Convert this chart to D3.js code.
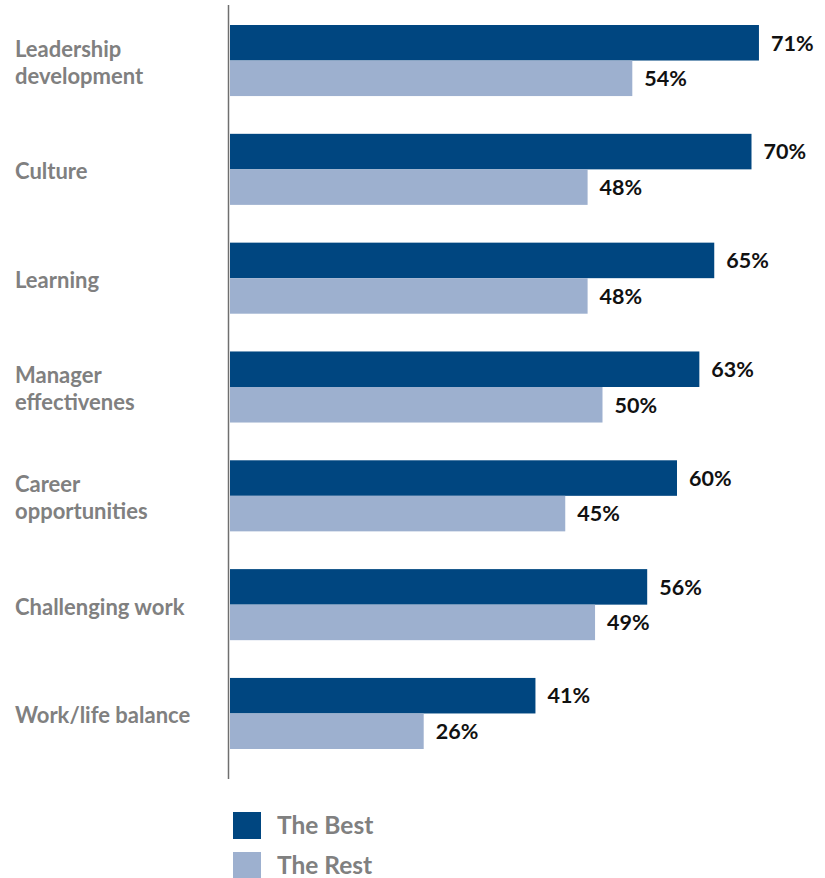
<!DOCTYPE html>
<html>
<head>
<meta charset="utf-8">
<script src="https://cdn.jsdelivr.net/npm/d3@7"></script>
<style>
  html, body { margin: 0; padding: 0; background: #fff; }
  svg { display: block; }
</style>
</head>
<body>
<div id="chart"></div>
<script>
// Categories (each label may wrap onto two lines)
const categories = [
  ["Leadership", "development"],
  ["Culture"],
  ["Learning"],
  ["Manager", "effectivenes"],
  ["Career", "opportunities"],
  ["Challenging work"],
  ["Work/life balance"]
];
const categoryKeys = categories.map(c => c.join(" "));

// Percent of respondents
const bestValues = [71, 70, 65, 63, 60, 56, 41];
const restValues = [54, 48, 48, 50, 45, 49, 26];

const seriesNames = ["The Best", "The Rest"];
const seriesColors = ["#004680", "#9db0cf"];

const width = 825, height = 878;

const svg = d3.select("#chart").append("svg")
  .attr("width", width)
  .attr("height", height);

const x = d3.scaleLinear().domain([0, 100]).range([230, 975]);

const y = d3.scaleBand()
  .domain(categoryKeys)
  .range([25, 749])
  .paddingInner(0.347)
  .paddingOuter(0);

const sub = d3.scaleBand()
  .domain(seriesNames)
  .range([0, y.bandwidth()])
  .padding(0);

const rows = categoryKeys.map((k, i) => ({
  key: k,
  lines: categories[i],
  values: [
    { series: seriesNames[0], value: bestValues[i] },
    { series: seriesNames[1], value: restValues[i] }
  ]
}));

const color = d3.scaleOrdinal().domain(seriesNames).range(seriesColors);

// Vertical axis line
svg.append("line")
  .attr("x1", 228.5).attr("x2", 228.5)
  .attr("y1", 5).attr("y2", 779)
  .attr("stroke", "#6f6f6f")
  .attr("stroke-width", 1.5);

const groups = svg.selectAll("g.row")
  .data(rows)
  .join("g")
  .attr("class", "row")
  .attr("transform", d => `translate(0,${y(d.key)})`);

groups.selectAll("rect")
  .data(d => d.values)
  .join("rect")
  .attr("x", x(0))
  .attr("y", d => sub(d.series))
  .attr("width", d => x(d.value) - x(0))
  .attr("height", sub.bandwidth())
  .attr("fill", d => color(d.series));

groups.selectAll("text.value")
  .data(d => d.values)
  .join("text")
  .attr("class", "value")
  .attr("x", d => x(d.value) + 12)
  .attr("y", d => sub(d.series) + sub.bandwidth() / 2)
  .attr("dy", "0.36em")
  .attr("font-family", "Lato, 'Open Sans', sans-serif")
  .attr("font-weight", 700)
  .attr("font-size", 21.5)
  .attr("fill", "#111")
  .text(d => d.value + "%");

// Category labels
groups.append("text")
  .attr("class", "cat")
  .attr("x", 15)
  .attr("font-family", "Lato, 'Open Sans', sans-serif")
  .attr("font-weight", 700)
  .attr("font-size", 22)
  .attr("fill", "#808080")
  .each(function(d) {
    const t = d3.select(this);
    const lh = 27;
    const mid = y.bandwidth() / 2 + 10;
    const start = mid - (d.lines.length - 1) * lh / 2;
    d.lines.forEach((ln, j) => {
      t.append("tspan").attr("x", 15).attr("y", start + j * lh).text(ln);
    });
  });

// Legend
const legend = svg.append("g").attr("transform", "translate(233,812)");
const li = legend.selectAll("g")
  .data(seriesNames)
  .join("g")
  .attr("transform", (d, i) => `translate(0,${i * 40})`);
li.append("rect")
  .attr("width", 28).attr("height", 27)
  .attr("fill", d => color(d));
li.append("text")
  .attr("x", 44).attr("y", 22)
  .attr("font-family", "Lato, 'Open Sans', sans-serif")
  .attr("font-weight", 700)
  .attr("font-size", 24.5)
  .attr("fill", "#808080")
  .text(d => d);
</script>
</body>
</html>
